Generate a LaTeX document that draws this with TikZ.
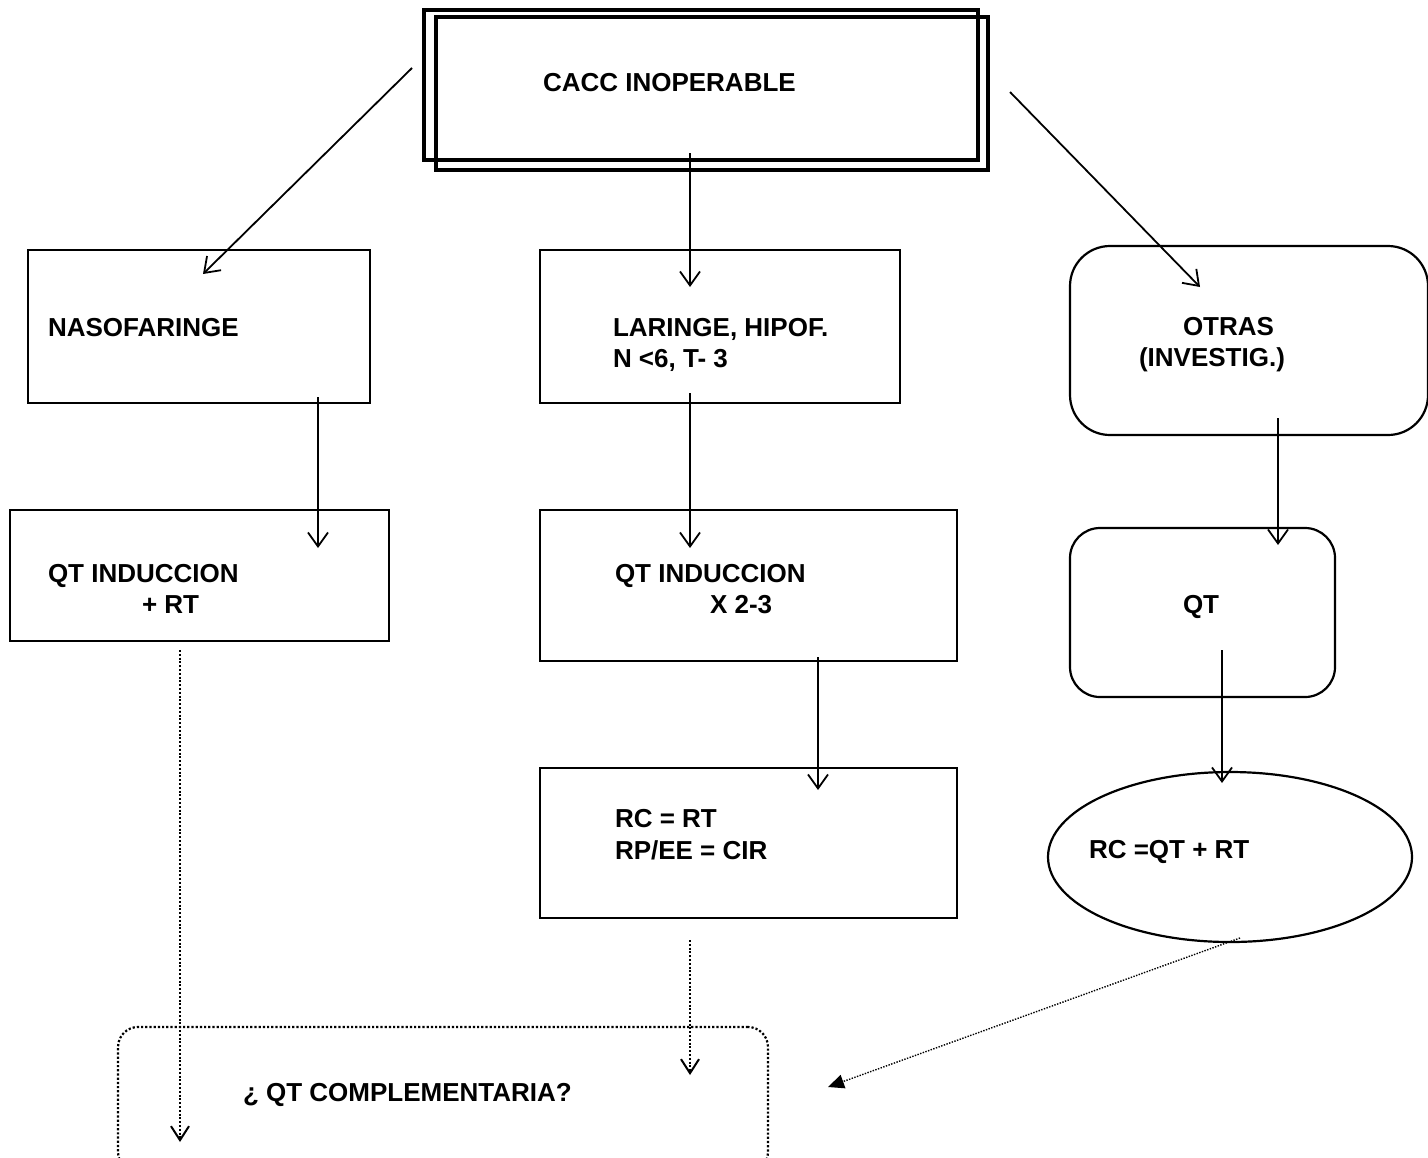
\documentclass[tikz,border=0pt]{standalone}
\usepackage{fontspec}
\setmainfont{Liberation Sans}
\usetikzlibrary{arrows.meta,shapes.geometric}
\begin{document}
\begin{tikzpicture}[x=0.5pt,y=-0.5pt,
	every node/.style={outer sep=0pt,inner sep=0pt},
	caja/.style={draw,line width=1.1pt},
	txt/.style={anchor=base west,font=\fontsize{13}{15}\selectfont\bfseries},
	flecha/.style={line width=0.9pt,-{Straight Barb[length=7pt,width=10pt]}},
	punteada/.style={line width=1pt,dash pattern=on 1pt off 0.9pt,-{Straight Barb[length=7pt,width=9pt]}}]
		\useasboundingbox (0,0) rectangle (1428,1157);
		% cabecera (doble marco)
		\node[caja,line width=2pt,minimum width=277pt,minimum height=75pt] (top) at (701,85) {};
		\draw[line width=2pt] ([shift={(12,7)}]top.north west) rectangle ([shift={(10,10)}]top.south east);
		\node[txt] (topT) at (543,91) {CACC INOPERABLE};
		% primera fila
		\node[caja,minimum width=171pt,minimum height=76.5pt] (nas) at (199,326.5) {};
		\node[caja,minimum width=180pt,minimum height=76.5pt] (lar) at (720,326.5) {};
		\node[caja,rounded corners=20pt,minimum width=179pt,minimum height=94.5pt] (otr) at (1249,340.5) {};
		\node[txt] (nasT) at (48,336) {NASOFARINGE};
		\node[txt] (larT1) at (613,336) {LARINGE, HIPOF.};
		\node[txt] (larT2) at (613,367) {N <6, T- 3};
		\node[txt] (otrT1) at (1183,335) {OTRAS};
		\node[txt] (otrT2) at (1139,366) {(INVESTIG.)};
		% segunda fila
		\node[caja,minimum width=189.5pt,minimum height=65.5pt] (qti) at (199.5,575.5) {};
		\node[caja,minimum width=208.5pt,minimum height=75.5pt] (qtx) at (748.5,585.5) {};
		\node[caja,rounded corners=15pt,minimum width=132.5pt,minimum height=84.5pt] (qt) at (1202.5,612.5) {};
		\node[txt] (qtiT1) at (48,582) {QT INDUCCION};
		\node[txt] (qtiT2) at (142,613) {+ RT};
		\node[txt] (qtxT1) at (615,582) {QT INDUCCION};
		\node[txt] (qtxT2) at (710,613) {X 2-3};
		\node[txt] (qtT) at (1183,613) {QT};
		% tercera fila
		\node[caja,minimum width=208.5pt,minimum height=75pt] (rc) at (748.5,843) {};
		\node[caja,ellipse,minimum width=182pt,minimum height=85pt] (ell) at (1230,857) {};
		\node[txt] (rcT1) at (615,827) {RC = RT};
		\node[txt] (rcT2) at (615,859) {RP/EE = CIR};
		\node[txt] (ellT) at (1089,858) {RC =QT + RT};
		% final (punteado)
		\node[draw,line width=1.1pt,dash pattern=on 1.1pt off 1pt,rounded corners=10pt,minimum width=325pt,minimum height=72.5pt] (comp) at (443,1099.5) {};
		\node[txt] (compT) at (243,1101) {¿ QT COMPLEMENTARIA?};
		% flechas
		\draw[flecha] ([shift={(-12,-17)}]top.west) -- ([shift={(4,24)}]nas.north);
		\draw[flecha] ([shift={(-11,-7)}]top.south) -- ([shift={(-30,37)}]lar.north);
		\draw[flecha] ([shift={(32,7)}]top.east) -- ([shift={(-49,41)}]otr.north);
		\draw[flecha] ([shift={(119,-6)}]nas.south) -- ([shift={(118.5,38)}]qti.north);
		\draw[flecha] ([shift={(-30,-10)}]lar.south) -- ([shift={(-58.5,38)}]qtx.north);
		\draw[flecha] ([shift={(29,-17)}]otr.south) -- ([shift={(75.5,17)}]qt.north);
		\draw[flecha] ([shift={(69.5,-4)}]qtx.south) -- ([shift={(69.5,22)}]rc.north);
		\draw[flecha] ([shift={(19.5,-47)}]qt.south) -- ([shift={(-8,11)}]ell.north);
		\draw[punteada] ([shift={(-19.5,9)}]qti.south) -- ([shift={(-263,115)}]comp.north);
		\draw[punteada] ([shift={(-58.5,22)}]rc.south) -- ([shift={(247,48)}]comp.north);
		\draw[line width=0.7pt,dash pattern=on 0.7pt off 0.7pt,-{Triangle[length=8pt,width=7pt]}] ([shift={(10,-4)}]ell.south) -- ([shift={(60,-12.5)}]comp.east);
\end{tikzpicture}
\end{document}
